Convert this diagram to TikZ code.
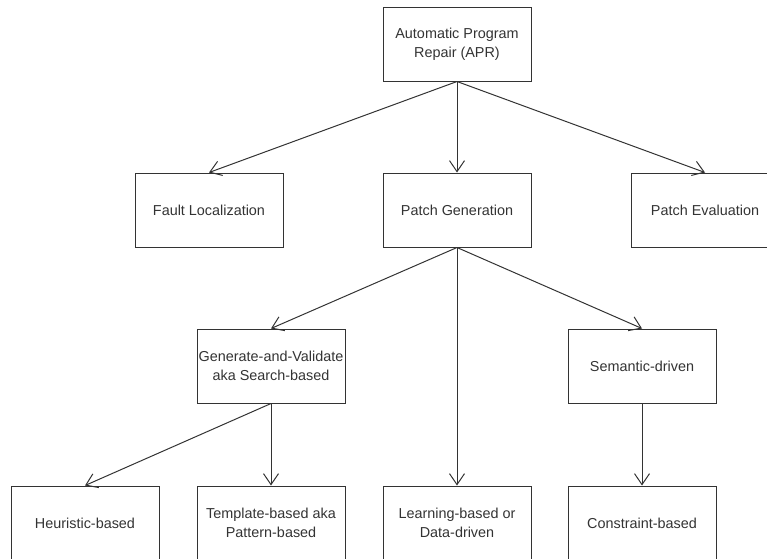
\documentclass[tikz,border=0pt]{standalone}
\usepackage{fontspec}
\setmainfont{Liberation Sans}
\usetikzlibrary{arrows.meta}
\definecolor{ink}{rgb}{0.2,0.2,0.2}
\tikzset{
  box/.style={draw=ink, line width=1pt, minimum width=148pt, minimum height=74pt,
    inner sep=0pt, align=center, text=ink,
    font=\fontsize{14.4pt}{19pt}\selectfont},
  conn/.style={draw=ink, line width=1pt, -{Straight Barb[length=11pt,width=15pt,line width=1pt]}}
}
\begin{document}
\begin{tikzpicture}[x=1pt,y=-1pt]
\useasboundingbox (0,0) rectangle (767,558);
\clip (0,0) rectangle (767,558);
\node[box] (apr) at (457,44) {Automatic Program\\Repair (APR)};
\node[box] (fl) at (209,210) {Fault Localization};
\node[box] (pg) at (457,210) {Patch Generation};
\node[box] (pe) at (705,210) {Patch Evaluation};
\node[box] (gv) at (271,366) {Generate-and-Validate\\aka Search-based};
\node[box] (sd) at (642,366) {Semantic-driven};
\node[box] (hb) at (85,523) {Heuristic-based};
\node[box] (tb) at (271,523) {Template-based aka\\Pattern-based};
\node[box] (lb) at (457,523) {Learning-based or\\Data-driven};
\node[box] (cb) at (642,523) {Constraint-based};
\draw[conn] (apr.south) -- (fl.north);
\draw[conn] (apr.south) -- (pg.north);
\draw[conn] (apr.south) -- (pe.north);
\draw[conn] (pg.south) -- (gv.north);
\draw[conn] (pg.south) -- (lb.north);
\draw[conn] (pg.south) -- (sd.north);
\draw[conn] (gv.south) -- (hb.north);
\draw[conn] (gv.south) -- (tb.north);
\draw[conn] (sd.south) -- (cb.north);
\end{tikzpicture}
\end{document}
